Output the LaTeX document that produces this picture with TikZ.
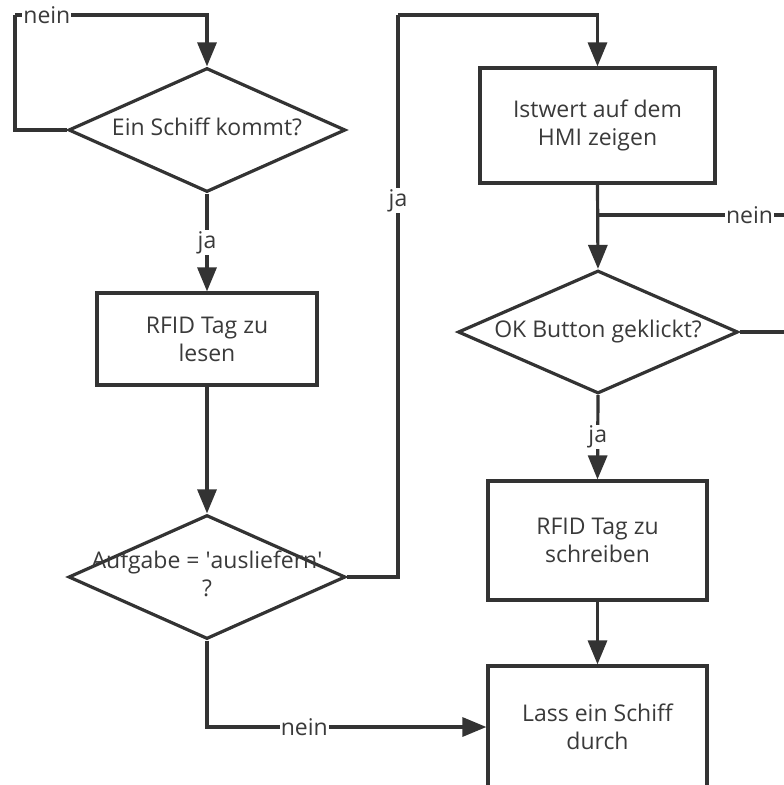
\documentclass[tikz,border=0pt]{standalone}
\usepackage{fontspec}
\setmainfont{Open Sans}
\usetikzlibrary{shapes.geometric,arrows.meta}

\definecolor{linegray}{HTML}{333333}
\definecolor{textgray}{HTML}{3a3a3a}
\newcommand{\dtext}[1]{\makebox[0pt]{\begin{tabular}{@{}c@{}}#1\end{tabular}}}

\begin{document}
\begin{tikzpicture}[x=1pt,y=-1pt,
    every node/.style={font=\fontsize{23}{28}\selectfont, text=textgray},
    flow/.style={draw=linegray, line width=3.2pt},
    arr/.style={flow, -{Triangle[length=24pt,width=19pt]}},
    procbox/.style={flow, rectangle, align=center, inner sep=0pt},
    decision/.style={flow, diamond, inner sep=0pt, minimum width=277pt, minimum height=124pt},
    lbl/.style={fill=white, inner sep=1pt}]
  \useasboundingbox (0,0) rectangle (784,785);
  \clip (0,0) rectangle (784,785);

  % left column
  \node[decision] (ship) at (207,130) {\dtext{Ein Schiff kommt?}};
  \node[procbox, minimum width=220pt, minimum height=92pt] (read) at (207,339) {RFID Tag zu\\lesen};
  \node[decision] (task) at (207,577) {\dtext{Aufgabe = \textquotesingle ausliefern\textquotesingle\\?}};

  % right column
  \node[procbox, minimum width=235pt, minimum height=115pt] (hmi) at (597.5,125.5) {Istwert auf dem\\HMI zeigen};
  \node[decision, minimum width=280pt, minimum height=123pt] (ok) at (598,332) {\dtext{OK Button geklickt?}};
  \node[procbox, minimum width=219pt, minimum height=119pt] (write) at (597.5,540.5) {RFID Tag zu\\schreiben};
  \node[procbox, minimum width=219pt, minimum height=122pt] (pass) at (597.5,727) {Lass ein Schiff\\durch};

  % bends of the loops
  \coordinate (k1) at (15,15);
  \coordinate (k2) at (398,15);
  \coordinate (k3) at (800,215);
  \coordinate (j1) at (598,215);

  \draw[flow] (ship.west) -| (k1);
  \draw[arr] (k1) -| node[lbl, pos=0.083] {nein} (ship.north);
  \draw[arr] (ship.south) -- node[lbl] {ja} (read.north);
  \draw[arr] (read.south) -- (task.north);
  \draw[flow] (task.east) -| node[lbl, pos=0.835] {ja} (k2);
  \draw[arr] (k2) -| (hmi.north);
  \draw[arr] (hmi.south) -- (ok.north);
  \draw[flow] (ok.east) -| (k3);
  \draw[flow] (k3) -- node[lbl, pos=0.25] {nein} (j1);
  \draw[arr] (ok.south) -- node[lbl] {ja} (write.north);
  \draw[arr] (write.south) -- (pass.north);
  \draw[arr] (task.south) |- node[lbl, pos=0.674] {nein} (pass.west);
\end{tikzpicture}
\end{document}
